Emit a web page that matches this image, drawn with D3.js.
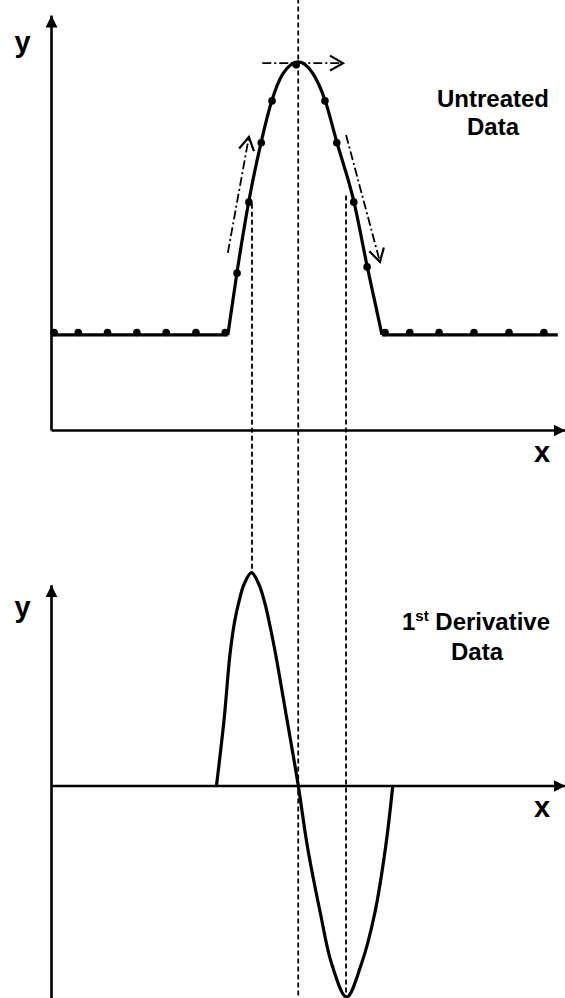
<!DOCTYPE html>
<html>
<head>
<meta charset="utf-8">
<script src="https://cdn.jsdelivr.net/npm/d3@7"></script>
<style>
  html, body { margin: 0; padding: 0; background: #fff; }
  svg { display: block; }
</style>
</head>
<body>
<svg id="chart" width="565" height="998"></svg>
<script>
// ---- measured (untreated) signal points ----
const rawX = [0.6, 5.3, 11.0, 16.7, 22.4, 28.2, 33.9,
              36.2, 38.5, 40.9, 43.0, 47.7, 53.3, 55.6, 58.9, 61.5,
              65.0, 69.8, 75.5, 82.3, 89.1, 95.9];
const rawY = [23.5, 23.5, 23.5, 23.5, 23.5, 23.5, 23.5,
              37.8, 54.9, 69.2, 79.3, 88.0, 79.3, 69.2, 54.9, 39.3,
              23.5, 23.5, 23.5, 23.5, 23.5, 23.5];

// ---- smooth profile through the signal ----
const fitX = [0, 34.4, 36.2, 38.5, 40.9, 43.0, 45.1, 48.1, 51.0, 53.3, 55.6, 58.9, 61.5, 64.4, 98.6];
const fitY = [22.9, 22.9, 38.1, 55.2, 69.4, 79.5, 85.8, 88.7, 85.8, 79.5, 69.4, 55.2, 39.5, 22.9, 22.9];
const peakStart = 1, peakEnd = 13;   // indices where the peak leaves / rejoins the baseline

// ---- first derivative of the profile ----
const derivX = [32.2, 33.7, 34.8, 35.7, 36.6, 37.6, 39.0, 40.4, 41.6, 42.5, 43.7, 45.9, 48.1,
                49.9, 52.4, 54.6, 57.5, 60.4, 63.0, 65.1, 66.5];
const derivY = [0, 31.5, 61.0, 76.5, 86.5, 94.5, 99.7, 94.5, 85.5, 76.0, 61.5, 31.0, 0,
                -28.8, -59.7, -83.5, -99.1, -83.5, -59.7, -28.8, 0];

// ---- vertical guides linking the two panels ----
const guideX      = [39.1, 48.1, 57.4];
const guideTop    = [54.5, 104, 56.5];   // start, in upper-panel units
const guideBottom = [100, -100, -100];   // end, in lower-panel units

// ---- direction-of-slope annotations (upper-panel units) ----
const slopeArrows = [
  { x1: 34.4, y1: 42.7, x2: 38.5, y2: 70.6 },
  { x1: 41.1, y1: 88.4, x2: 56.8, y2: 88.4 },
  { x1: 57.4, y1: 71.1, x2: 64.0, y2: 40.5 }
];

// ---- text ----
const axisNames = { x: "x", y: "y" };
const topTitle = ["Untreated", "Data"];
const bottomTitle = { num: "1", sup: "st", rest: " Derivative", line2: "Data" };

const FONT = "'Liberation Sans', Arial, Helvetica, sans-serif";

const svg = d3.select("#chart");

const x = d3.scaleLinear().domain([0, 100]).range([51, 565]);
const yTop = d3.scaleLinear().domain([0, 100]).range([430, 15]);
const yBot = d3.scaleLinear().domain([-100, 100]).range([999, 572]);
const yBotAxis = d3.scaleLinear().domain([-100, 94]).range([yBot(-100), yBot(94)]);

// filled arrowhead for the axes
const defs = svg.append("defs");
defs.append("marker")
  .attr("id", "axisHead")
  .attr("markerUnits", "userSpaceOnUse")
  .attr("viewBox", "0 -6 12 12")
  .attr("refX", 12).attr("refY", 0)
  .attr("markerWidth", 12).attr("markerHeight", 12)
  .attr("orient", "auto")
  .append("path")
  .attr("d", "M0,-6L12,0L0,6Z")
  .attr("fill", "#000");

// guides (behind everything)
const guides = svg.append("g")
  .attr("fill", "none")
  .attr("stroke", "#000")
  .attr("stroke-width", 1.8)
  .attr("stroke-dasharray", "5,3");
guideX.forEach((gx, i) => {
  guides.append("line")
    .attr("x1", x(gx)).attr("x2", x(gx))
    .attr("y1", yTop(guideTop[i]))
    .attr("y2", yBot(guideBottom[i]));
});

// axes
function styleAxis(g) {
  g.select(".domain")
    .attr("stroke", "#000")
    .attr("stroke-width", 2.6)
    .attr("marker-end", "url(#axisHead)");
}
svg.append("g")
  .attr("transform", `translate(0,${yTop(0)})`)
  .call(d3.axisBottom(x).tickValues([]).tickSizeOuter(0))
  .call(styleAxis);
svg.append("g")
  .attr("transform", `translate(${x(0)},0)`)
  .call(d3.axisLeft(yTop).tickValues([]).tickSizeOuter(0))
  .call(styleAxis);
svg.append("g")
  .attr("transform", `translate(0,${yBot(0)})`)
  .call(d3.axisBottom(x).tickValues([]).tickSizeOuter(0))
  .call(styleAxis);
svg.append("g")
  .attr("transform", `translate(${x(0)},0)`)
  .call(d3.axisLeft(yBotAxis).tickValues([]).tickSizeOuter(0))
  .call(styleAxis);

// upper panel: baseline segments straight, peak smooth
const fit = fitX.map((v, i) => [v, fitY[i]]);
const straight = d3.line().x(d => x(d[0])).y(d => yTop(d[1]));
const smooth = d3.line().x(d => x(d[0])).y(d => yTop(d[1])).curve(d3.curveMonotoneX);
const profile = svg.append("g")
  .attr("fill", "none")
  .attr("stroke", "#000")
  .attr("stroke-width", 3.2)
  .attr("stroke-linejoin", "round");
profile.append("path").attr("d", straight(fit.slice(0, peakStart + 1)));
profile.append("path").attr("d", smooth(fit.slice(peakStart, peakEnd + 1)));
profile.append("path").attr("d", straight(fit.slice(peakEnd)));

svg.append("g")
  .selectAll("circle")
  .data(rawX.map((v, i) => [v, rawY[i]]))
  .join("circle")
  .attr("cx", d => x(d[0]))
  .attr("cy", d => yTop(d[1]))
  .attr("r", 3.8)
  .attr("fill", "#000");

// slope annotations: dash-dot shafts with open heads
const ann = svg.append("g")
  .attr("fill", "none")
  .attr("stroke", "#000")
  .attr("stroke-width", 1.8);
slopeArrows.forEach(a => {
  const px1 = x(a.x1), py1 = yTop(a.y1), px2 = x(a.x2), py2 = yTop(a.y2);
  ann.append("line")
    .attr("x1", px1).attr("y1", py1).attr("x2", px2).attr("y2", py2)
    .attr("stroke-dasharray", "9,3,2,3");
  const ang = Math.atan2(py1 - py2, px1 - px2);
  const L = 15, spread = Math.PI / 6;
  const p = [
    [px2 + L * Math.cos(ang + spread), py2 + L * Math.sin(ang + spread)],
    [px2, py2],
    [px2 + L * Math.cos(ang - spread), py2 + L * Math.sin(ang - spread)]
  ];
  ann.append("path")
    .attr("d", d3.line()(p))
    .attr("stroke-width", 2.2)
    .attr("stroke-linejoin", "miter");
});

// lower panel: derivative curve
svg.append("path")
  .datum(derivX.map((v, i) => [v, derivY[i]]))
  .attr("fill", "none")
  .attr("stroke", "#000")
  .attr("stroke-width", 3.2)
  .attr("d", d3.line().x(d => x(d[0])).y(d => yBot(d[1])).curve(d3.curveCatmullRom.alpha(0.5)));

// axis names
const nameStyle = t => t
  .attr("font-family", FONT)
  .attr("font-weight", "bold")
  .attr("font-size", 29)
  .attr("text-anchor", "middle")
  .attr("fill", "#000");
svg.append("text").attr("x", 22.5).attr("y", 52).text(axisNames.y).call(nameStyle);
svg.append("text").attr("x", 542).attr("y", 462).text(axisNames.x).call(nameStyle);
svg.append("text").attr("x", 22.5).attr("y", 617).text(axisNames.y).call(nameStyle);
svg.append("text").attr("x", 542).attr("y", 817).text(axisNames.x).call(nameStyle);

// panel titles
const titleStyle = t => t
  .attr("font-family", FONT)
  .attr("font-weight", "bold")
  .attr("font-size", 24)
  .attr("text-anchor", "middle")
  .attr("fill", "#000");
topTitle.forEach((s, i) => {
  svg.append("text").attr("x", 493).attr("y", 107 + i * 28).text(s).call(titleStyle);
});
const bt = svg.append("text").attr("x", 476).attr("y", 630).call(titleStyle);
bt.append("tspan").text(bottomTitle.num);
bt.append("tspan").attr("font-size", 15).attr("dy", -9).text(bottomTitle.sup);
bt.append("tspan").attr("dy", 9).text(bottomTitle.rest);
svg.append("text").attr("x", 477).attr("y", 660).text(bottomTitle.line2).call(titleStyle);
</script>
</body>
</html>
